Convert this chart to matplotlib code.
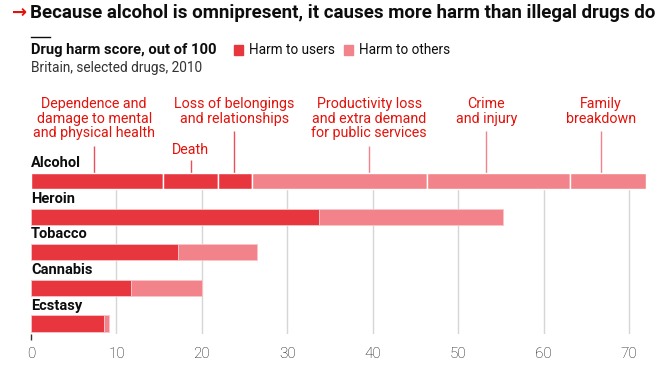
import matplotlib
matplotlib.use("Agg")
import matplotlib.pyplot as plt
from matplotlib.patches import Rectangle
from matplotlib.lines import Line2D

# ---- data ----
drugs = ["Alcohol", "Heroin", "Tobacco", "Cannabis", "Ecstasy"]
harm_users = [25.9, 33.7, 17.2, 11.65, 8.55]
harm_others = [46.1, 21.6, 9.2, 8.35, 0.55]

alc_user_parts = [15.4, 6.5, 4.0]
alc_other_parts = [20.5, 16.7, 8.9]
alc_user_labels = ["Dependence and\ndamage to mental\nand physical health", "Death",
                   "Loss of belongings\nand relationships"]
alc_other_labels = ["Productivity loss\nand extra demand\nfor public services", "Crime\nand injury",
                    "Family\nbreakdown"]
# annotation anchor positions (x, in score units) and leader/text tops (row units)
alc_user_anchor = [7.4, 18.7, 23.8]
alc_other_anchor = [39.6, 53.3, 66.7]
user_leader_top = [-0.98, -0.59, -1.40]
other_leader_top = [-0.98, -1.40, -1.40]
user_text_top = [-2.35, -1.08, -2.35]
other_text_top = [-2.35, -2.35, -2.35]

xticks = [0, 10, 20, 30, 40, 50, 60, 70]

C_USER = "#E8363F"
C_OTHER = "#F2838A"
C_ANN = "#E3120B"

FONT = ["Roboto", "DejaVu Sans"]
plt.rcParams["font.family"] = FONT

fig = plt.figure(figsize=(6.6, 3.8), dpi=100)
ax = fig.add_axes([31/660, 46/380, 623.6/660, 244/380])
ax.set_xlim(0, 73)
ax.set_ylim(4.295, -2.556)

bh = 0.45
for i, d in enumerate(drugs):
    if i == 0:
        left = 0
        for v in alc_user_parts:
            ax.barh(i, v, left=left, height=bh, color=C_USER, edgecolor="white", linewidth=1, zorder=3)
            left += v
        for v in alc_other_parts:
            ax.barh(i, v, left=left, height=bh, color=C_OTHER, edgecolor="white", linewidth=1, zorder=3)
            left += v
    else:
        ax.barh(i, harm_users[i], height=bh, color=C_USER, edgecolor="#f7c5c8", linewidth=0.6, zorder=3)
        ax.barh(i, harm_others[i], left=harm_users[i], height=bh, color=C_OTHER,
                edgecolor="#f7c5c8", linewidth=0.6, zorder=3)
    ax.text(0, i - 0.50, d, fontsize=10.5, fontweight="bold", color="#0d0d0d",
            ha="left", va="center", zorder=4)

for t in xticks[1:]:
    ax.vlines(t, 0.225, 4.295, color="#d6d6d6", linewidth=1, zorder=1)

for x, lab, lt, tt in zip(alc_user_anchor, alc_user_labels, user_leader_top, user_text_top):
    ax.vlines(x, lt, -0.225, color="#E8505A", linewidth=1, zorder=2)
    ax.text(x, tt, lab, ha="center", va="top", fontsize=10.3, color=C_ANN, linespacing=1.02)
for x, lab, lt, tt in zip(alc_other_anchor, alc_other_labels, other_leader_top, other_text_top):
    ax.vlines(x, lt, -0.225, color=C_OTHER, linewidth=1, zorder=2)
    ax.text(x, tt, lab, ha="center", va="top", fontsize=10.3, color=C_ANN, linespacing=1.02)

for s in ax.spines.values():
    s.set_visible(False)
ax.set_yticks([])
ax.set_xticks(xticks)
ax.set_xticklabels([str(t) for t in xticks], fontsize=11, color="#0d0d0d", fontweight="light")
ax.tick_params(axis="x", length=4.5, width=1, color="#333333", pad=5)
for t in ax.xaxis.get_major_ticks()[1:]:
    t.tick1line.set_visible(False)

# header
fig.text(12/660, 1 - 13/380, "\u2192", fontsize=13, fontweight="bold", color=C_ANN,
         ha="left", va="center", family=["DejaVu Sans"])
fig.text(30/660, 1 - 13/380, "Because alcohol is omnipresent, it causes more harm than illegal drugs do",
         fontsize=13.5, fontweight="bold", color="#0d0d0d", ha="left", va="center")
fig.add_artist(Line2D([31/660, 50/660], [1 - 37/380, 1 - 37/380], color="#0d0d0d", linewidth=1))
fig.text(31/660, 1 - 50/380, "Drug harm score, out of 100", fontsize=10.6, fontweight="bold",
         color="#0d0d0d", ha="left", va="center")
fig.add_artist(Rectangle((234/660, 1 - 55/380), 9/660, 10/380, color=C_USER, transform=fig.transFigure))
fig.text(249/660, 1 - 50/380, "Harm to users", fontsize=9.8, color="#0d0d0d", ha="left", va="center")
fig.add_artist(Rectangle((344/660, 1 - 55/380), 9/660, 10/380, color=C_OTHER, transform=fig.transFigure))
fig.text(359/660, 1 - 50/380, "Harm to others", fontsize=9.8, color="#0d0d0d", ha="left", va="center")
fig.text(31/660, 1 - 68/380, "Britain, selected drugs, 2010", fontsize=9.8, color="#333333",
         ha="left", va="center")

fig.savefig("out.png", dpi=100)
